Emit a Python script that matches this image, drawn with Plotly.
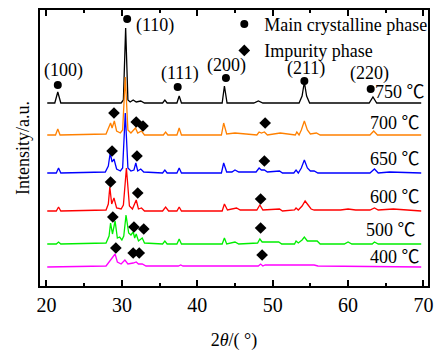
import plotly.graph_objects as go

# ---- data (2theta in degrees, intensity in a.u. incl. offset) ----
x750 = [20.1, 21.1, 21.5, 21.9, 29.9, 30.2, 30.5, 30.8, 31.1, 31.5, 31.9, 32.5, 33.0, 35.4, 35.7, 36.0,
        37.3, 37.6, 37.9, 43.3, 43.6, 43.95, 47.5, 48.1, 48.7, 53.5, 53.9, 54.2, 54.5, 54.9, 62.8, 63.3, 63.8, 69.7]
y750 = [183, 183, 194, 183, 183, 186, 258, 186, 184, 186, 184, 185, 183, 183, 186, 183,
        183, 190, 183, 183, 200, 183, 183, 185, 183, 183, 190, 204, 190, 183, 183, 189, 183, 183]

x700 = [20.1, 21.2, 21.5, 21.8, 27.9, 28.3, 28.5, 28.7, 29.0, 29.3, 29.8, 30.1, 30.45, 30.8, 31.2, 31.8, 32.1,
        32.6, 33.0, 35.5, 35.8, 36.1, 37.3, 37.6, 37.9, 43.2, 43.5, 43.9, 45.0, 47.9, 48.2, 48.5, 48.9, 49.3,
        51.0, 53.0, 53.2, 53.5, 53.8, 54.2, 54.6, 55.0, 55.8, 56.3, 62.9, 63.4, 63.9, 69.7]
y700 = [151, 151, 157, 151, 152, 160, 163, 158, 165, 155, 153, 156, 209, 156, 153, 158, 153,
        155, 151, 151, 154, 151, 151, 158, 151, 151, 163, 152, 153, 151, 154, 153, 154, 151,
        153, 151, 154, 151, 156, 165, 156, 152, 153, 151, 151, 155, 151, 151]

x650 = [20.1, 21.3, 21.6, 21.9, 27.8, 28.2, 28.45, 28.7, 28.95, 29.3, 29.8, 30.1, 30.45, 30.8, 31.2, 31.6,
        31.85, 32.1, 32.5, 32.9, 35.4, 35.7, 36.0, 37.3, 37.6, 37.9, 43.2, 43.5, 43.9, 44.6, 45.0, 45.5,
        47.8, 48.2, 48.5, 48.9, 49.3, 50.9, 51.3, 52.8, 53.1, 53.4, 53.8, 54.2, 54.6, 55.0, 55.5, 56.0,
        62.9, 63.5, 64.0, 65.5, 69.7]
y650 = [113, 113, 118, 113, 114, 120, 133, 124, 127, 117, 115, 118, 173, 118, 115, 116,
        123, 115, 117, 114, 113, 116, 113, 113, 118, 113, 113, 123, 114, 114, 116, 114,
        114, 118, 116, 116, 114, 115, 113, 113, 116, 113, 118, 126, 118, 115, 115, 113,
        113, 117, 113, 114, 113]

x600 = [20.1, 21.3, 21.6, 21.9, 27.9, 28.2, 28.4, 28.65, 28.95, 29.3, 29.9, 30.2, 30.6, 31.0, 31.4, 31.9,
        32.2, 32.6, 33.0, 35.4, 35.8, 36.2, 37.3, 37.6, 37.9, 43.3, 43.6, 44.0, 45.2, 45.7, 47.9, 48.3,
        48.7, 50.9, 51.3, 52.9, 53.1, 53.4, 53.9, 54.3, 54.7, 55.1, 55.5, 59.0, 60.0, 61.0, 62.9, 63.5,
        64.0, 66.0, 69.7]
y600 = [75, 75, 79, 75, 76, 82, 99, 82, 88, 78, 77, 81, 118, 80, 77, 86,
        77, 78, 75, 75, 79, 75, 75, 79, 75, 75, 82, 76, 78, 76, 76, 81,
        76, 77, 75, 76, 78, 76, 80, 85, 81, 77, 76, 76, 77, 76, 76, 78,
        76, 77, 75]

x500 = [20.1, 21.3, 21.6, 21.9, 27.9, 28.3, 28.5, 28.75, 29.1, 29.4, 29.7, 30.0, 30.25, 30.55, 30.9, 31.2,
        31.5, 31.7, 31.9, 32.2, 32.7, 33.0, 35.4, 35.7, 36.0, 37.3, 37.6, 37.9, 43.3, 43.6, 43.9, 45.0,
        45.5, 48.0, 48.3, 48.6, 49.0, 50.8, 51.2, 52.9, 53.1, 53.4, 53.9, 54.2, 54.6, 55.9, 56.3, 59.5,
        60.0, 60.5, 63.2, 63.5, 64.0, 69.7]
y500 = [42, 42, 44, 42, 43, 50, 63, 52, 65, 48, 49, 46, 50, 71, 53, 51,
        54, 48, 52, 45, 48, 43, 42, 45, 42, 42, 47, 42, 42, 48, 42, 44,
        42, 43, 47, 44, 44, 44, 42, 42, 45, 43, 46, 49, 45, 45, 42, 42,
        44, 42, 42, 44, 42, 42]

x400 = [20.1, 27.9, 28.4, 28.7, 29.1, 29.4, 29.9, 30.4, 30.8, 31.5, 31.9, 32.2, 32.7, 33.2, 37.5, 37.8,
        38.1, 48.1, 48.4, 48.7, 49.0, 51.0, 53.0, 55.5, 56.0, 69.7]
y400 = [19, 20, 25, 28, 32, 24, 22, 26, 22, 23, 24, 22, 22, 20, 20, 21,
        20, 20, 22, 20, 21, 21, 21, 21, 20, 19]

series_names = ["750 ℃", "700 ℃", "650 ℃", "600 ℃", "500 ℃", "400 ℃"]
series_x = [x750, x700, x650, x600, x500, x400]
series_y = [y750, y700, y650, y600, y500, y400]
series_colors = ["#000000", "#FF8000", "#0000FF", "#FF0000", "#00EE00", "#FF00FF"]
label_x = [70.45, 69.8, 69.8, 69.8, 69.27, 69.8]
label_y = [194, 163, 127, 89, 56, 29]

# main crystalline phase peaks (circles) and Miller indices
main_x = [21.5, 30.7, 37.4, 43.8, 54.2, 63.0]
main_y = [201, 267, 199, 208, 205, 197]
hkl_labels = ["(100)", "(110)", "(111)", "(200)", "(211)", "(220)"]
hkl_x = [22.2, 34.4, 37.7, 43.9, 54.4, 62.9]
hkl_y = [216, 261, 213, 221, 218, 213]

# impurity phase markers (diamonds)
imp_x = [28.95, 31.9, 32.8, 49.0, 28.7, 32.0, 48.9, 28.5, 32.1, 48.4,
         28.8, 31.6, 32.9, 48.4, 29.2, 31.5, 32.3, 48.6]
imp_y = [173, 164, 160, 163, 135, 130, 125, 104, 93, 87,
         69, 59, 57, 58, 38, 33, 33, 31]

x_ticks = [20, 30, 40, 50, 60, 70]

FONT = "Liberation Serif, serif"
FONT_C = "Liberation Serif, Noto Sans CJK SC, serif"

fig = go.Figure()
for xs, ys, nm, col in zip(series_x, series_y, series_names, series_colors):
    fig.add_trace(go.Scatter(x=xs, y=ys, mode="lines", name=nm, showlegend=False,
                             line=dict(color=col, width=1.3)))

fig.add_trace(go.Scatter(x=main_x, y=main_y, mode="markers", name="Main crystalline phase",
                         marker=dict(symbol="circle", size=8, color="black")))
fig.add_trace(go.Scatter(x=imp_x, y=imp_y, mode="markers", name="Impurity phase",
                         marker=dict(symbol="diamond", size=9, color="black")))

for t, xx, yy in zip(hkl_labels, hkl_x, hkl_y):
    fig.add_annotation(x=xx, y=yy, text=t, showarrow=False, font=dict(size=18, color="black", family=FONT))
for t, xx, yy in zip(series_names, label_x, label_y):
    fig.add_annotation(x=xx, y=yy, text=t, showarrow=False, xanchor="right",
                       font=dict(size=18, color="black", family=FONT_C))

fig.update_layout(
    width=435, height=351,
    margin=dict(l=40, r=7, t=10, b=65, autoexpand=False),
    paper_bgcolor="white", plot_bgcolor="white",
    font=dict(family=FONT, size=18, color="black"),
    showlegend=True,
    legend=dict(x=0.475, y=1.015, xanchor="left", yanchor="top", bgcolor="rgba(0,0,0,0)",
                font=dict(size=18, family=FONT), itemwidth=30, tracegroupgap=0),
)
fig.update_xaxes(
    range=[19.14, 70.6], tickvals=x_ticks, ticktext=[str(v) for v in x_ticks],
    ticks="inside", ticklen=6, tickwidth=1.5, tickcolor="black",
    minor=dict(ticks="inside", dtick=5, tick0=25, ticklen=3, tickwidth=1.5, tickcolor="black"),
    showline=True, linecolor="black", linewidth=2, mirror="ticks",
    showgrid=False, zeroline=False, automargin=False,
    title=dict(text="2<i>θ</i>/( °)", standoff=19, font=dict(size=18, family=FONT)),
    tickfont=dict(size=20, family=FONT),
)
fig.update_yaxes(
    range=[0, 276], showticklabels=False, ticks="",
    showline=True, linecolor="black", linewidth=2, mirror=True,
    showgrid=False, zeroline=False, automargin=False,
    title=dict(text="Intensity/a.u.", standoff=4, font=dict(size=18, family=FONT)),
)

fig.write_html("out.html", config={"displayModeBar": False},
               post_script="document.body.style.margin='0';document.body.style.overflow='hidden';")
